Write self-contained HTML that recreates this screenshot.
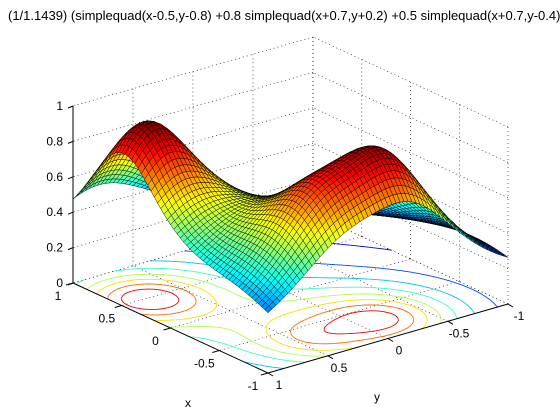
<!DOCTYPE html>
<html><head><meta charset="utf-8">
<style>
html,body{margin:0;padding:0;background:#fff;}
#wrap{position:relative;width:560px;height:420px;overflow:hidden;}
svg{position:absolute;left:0;top:0;}
text{font-family:"Liberation Sans",sans-serif;font-size:12px;fill:#000;}
</style></head>
<body>
<div id="wrap">
<svg id="plot" width="560" height="420" viewBox="0 0 560 420">
<text x="8" y="20" style="font-size:13px;white-space:pre">(1/1.1439) (simplequad(x-0.5,y-0.8) +0.8 simplequad(x+0.7,y+0.2) +0.5 simplequad(x+0.7,y-0.4))</text>
<g id="grid"></g>
<g id="contours"></g>
<g id="axes"></g>
<g id="surf"></g>
</svg>
</div>
<script>
// data
const peakCx = [0.5, -0.7, -0.7];
const peakCy = [0.8, -0.2, 0.4];
const peakW = [1, 0.8, 0.5];
const normFactor = 1.1439;
const contourLevels = [0.2, 0.3, 0.4, 0.5, 0.6, 0.7, 0.8, 0.9];
const xTicks = [-1, -0.5, 0, 0.5, 1];
const xTickLabels = ["-1", "-0.5", "0", "0.5", "1"];
const yTicks = [-1, -0.5, 0, 0.5, 1];
const yTickLabels = ["-1", "-0.5", "0", "0.5", "1"];
const zTicks = [0, 0.2, 0.4, 0.6, 0.8, 1];
const zTickLabels = ["0", "0.2", "0.4", "0.6", "0.8", "1"];

const NS = "http://www.w3.org/2000/svg";
const C = [290.5, 293.5], EX = [-97.5, -45], EY = [-120, 34.5], EZ = [0, -177];
function P(x, y, z) { return [C[0] + x*EX[0] + y*EY[0] + z*EZ[0], C[1] + x*EX[1] + y*EY[1] + z*EZ[1]]; }
function f(x, y) {
  let s = 0;
  for (let i = 0; i < peakCx.length; i++) {
    const dx = x - peakCx[i], dy = y - peakCy[i];
    s += peakW[i] / (1 + 4*(dx*dx + dy*dy));
  }
  return s / normFactor;
}
function cl(v){return Math.max(0,Math.min(1,v));}
function jet(t) {
  t = cl(t);
  const r = cl(1.5 - Math.abs(4*t - 3)), g = cl(1.5 - Math.abs(4*t - 2)), b = cl(1.5 - Math.abs(4*t - 1));
  return "rgb(" + Math.round(r*255) + "," + Math.round(g*255) + "," + Math.round(b*255) + ")";
}
function mk(tag, attrs, parent) {
  const e = document.createElementNS(NS, tag);
  for (const k in attrs) e.setAttribute(k, attrs[k]);
  parent.appendChild(e); return e;
}
function line(a, b, parent, style) {
  return mk("line", Object.assign({x1:a[0].toFixed(1), y1:a[1].toFixed(1), x2:b[0].toFixed(1), y2:b[1].toFixed(1)}, style), parent);
}
const dot = {stroke:"#000", "stroke-width":"0.6", "stroke-dasharray":"1,3"};
const solid = {stroke:"#000", "stroke-width":"1"};

// grid
const grid = document.getElementById("grid");
for (const t of xTicks) { const l = line(P(t,-1,0), P(t,1,0), grid, dot);   }
for (const t of yTicks) { const l = line(P(-1,t,0), P(1,t,0), grid, dot);   }
for (const t of yTicks) { const l = line(P(1,t,0), P(1,t,1), grid, dot);   }
for (const t of zTicks) { const l = line(P(1,-1,t), P(1,1,t), grid, dot);   }
for (const t of xTicks) { const l = line(P(t,-1,0), P(t,-1,1), grid, dot);   }
for (const t of zTicks) { const l = line(P(-1,-1,t), P(1,-1,t), grid, dot);   }

// surface range
const N = 60;
let zmin = Infinity, zmax = -Infinity;
const Z = [];
for (let i = 0; i <= N; i++) { Z.push([]); for (let j = 0; j <= N; j++) {
  const x = -1 + 2*i/N, y = -1 + 2*j/N, z = f(x, y);
  Z[i].push(z); zmin = Math.min(zmin, z); zmax = Math.max(zmax, z);
}}
function cmap(z){ return jet((z - zmin)/(zmax - zmin)); }

// contours (marching squares)
const cg = document.getElementById("contours");
const M = 100;
const G = [];
for (let i = 0; i <= M; i++) { G.push([]); for (let j = 0; j <= M; j++) G[i].push(f(-1+2*i/M, -1+2*j/M)); }
for (const lv of contourLevels) {
  let d = "";
  for (let i = 0; i < M; i++) for (let j = 0; j < M; j++) {
    const x0 = -1+2*i/M, x1 = -1+2*(i+1)/M, y0 = -1+2*j/M, y1 = -1+2*(j+1)/M;
    const v = [G[i][j], G[i+1][j], G[i+1][j+1], G[i][j+1]];
    const pts = [[x0,y0],[x1,y0],[x1,y1],[x0,y1]];
    const cr = [];
    for (let k = 0; k < 4; k++) {
      const a = v[k], b = v[(k+1)%4];
      if ((a - lv)*(b - lv) < 0) {
        const t = (lv - a)/(b - a);
        const pa = pts[k], pb = pts[(k+1)%4];
        cr.push([pa[0] + t*(pb[0]-pa[0]), pa[1] + t*(pb[1]-pa[1])]);
      }
    }
    for (let k = 0; k + 1 < cr.length; k += 2) {
      const A = P(cr[k][0], cr[k][1], 0), B = P(cr[k+1][0], cr[k+1][1], 0);
      d += "M" + A[0].toFixed(1) + " " + A[1].toFixed(1) + "L" + B[0].toFixed(1) + " " + B[1].toFixed(1);
    }
  }
  const p = mk("path", {d: d, fill: "none", stroke: cmap(lv), "stroke-width": "0.9"}, cg);
  
  
}

// axes
const ax = document.getElementById("axes");
line(P(1,1,0), P(1,1,1), ax, solid);
line(P(1,1,0), P(-1,1,0), ax, solid);
line(P(-1,1,0), P(-1,-1,0), ax, solid);
zTicks.forEach((t, k) => {
  const a = P(1,1,t);
  line(a, [a[0]-5, a[1]+2], ax, solid);
  const tx = mk("text", {x: (a[0]-10).toFixed(1), y: (a[1]+4).toFixed(1), "text-anchor": "end"}, ax);
  tx.textContent = zTickLabels[k];
  
  
});
xTicks.forEach((t, k) => {
  const a = P(t,1,0);
  line(a, [a[0]-7, a[1]+2], ax, solid);
  const tx = mk("text", {x: (a[0]-15).toFixed(1), y: (a[1]+17).toFixed(1), "text-anchor": "middle"}, ax);
  tx.textContent = xTickLabels[k];
  
  
});
yTicks.forEach((t, k) => {
  const a = P(-1,t,0);
  line(a, [a[0]+5, a[1]+3], ax, solid);
  const tx = mk("text", {x: (a[0]+11).toFixed(1), y: (a[1]+16).toFixed(1), "text-anchor": "middle"}, ax);
  tx.textContent = yTickLabels[k];
  
  
});
const xl = mk("text", {x: "188", y: "407", "text-anchor": "middle"}, ax); xl.textContent = "x";


const yl = mk("text", {x: "377", y: "401", "text-anchor": "middle"}, ax); yl.textContent = "y";



// surface faces, painter's order (far first)
const sg = document.getElementById("surf");
const cells = [];
for (let i = 0; i < N; i++) for (let j = 0; j < N; j++) {
  const xc = -1 + 2*(i+0.5)/N, yc = -1 + 2*(j+0.5)/N;
  cells.push([i, j, P(xc, yc, 0)[1]]);
}
cells.sort((a, b) => a[2] - b[2]);
const frag = document.createDocumentFragment();
for (const [i, j] of cells) {
  const xs = [-1+2*i/N, -1+2*(i+1)/N], ys = [-1+2*j/N, -1+2*(j+1)/N];
  const q = [P(xs[0],ys[0],Z[i][j]), P(xs[1],ys[0],Z[i+1][j]), P(xs[1],ys[1],Z[i+1][j+1]), P(xs[0],ys[1],Z[i][j+1])];
  const zc = (Z[i][j]+Z[i+1][j]+Z[i+1][j+1]+Z[i][j+1])/4;
  const poly = document.createElementNS(NS, "polygon");
  poly.setAttribute("points", q.map(p => p[0].toFixed(1)+","+p[1].toFixed(1)).join(" "));
  poly.setAttribute("fill", cmap(zc));
  poly.setAttribute("stroke", "#000");
  poly.setAttribute("stroke-width", "0.45");
  poly.setAttribute("stroke-linejoin", "round");
  
  
  frag.appendChild(poly);
}
sg.appendChild(frag);
</script>
</body></html>
